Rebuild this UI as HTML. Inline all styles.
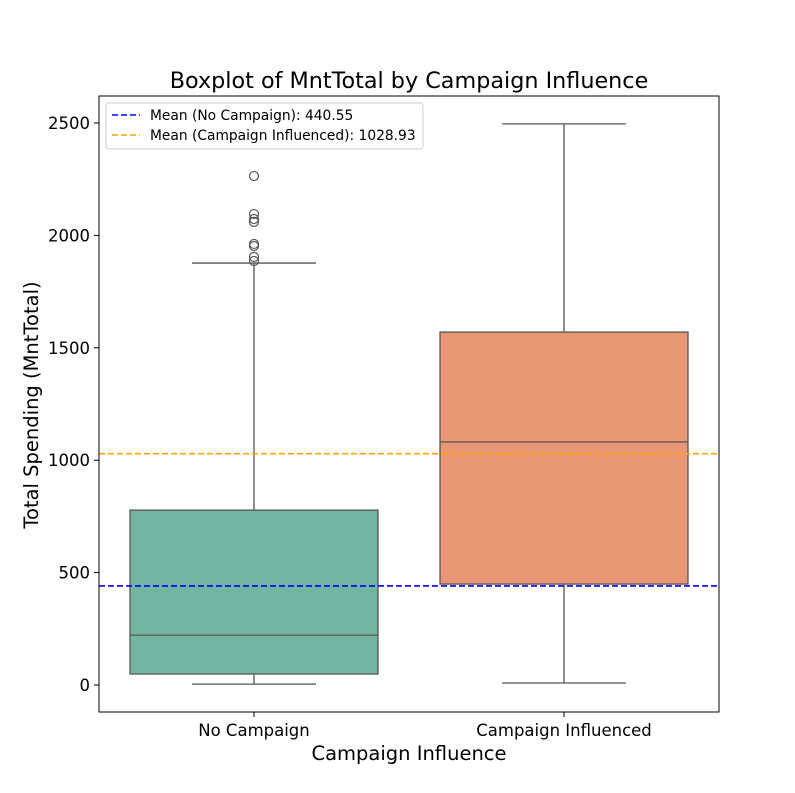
<!DOCTYPE html>
<html><head><meta charset="utf-8"><style>body{margin:0;background:#fff}svg{display:block;font-family:"DejaVu Sans","Liberation Sans",sans-serif}</style></head>
<body>
<svg id="c" width="795" height="793"></svg>
<script>
const categories=["No Campaign","Campaign Influenced"];
const q1s=[49,449];
const medians=[222,1081];
const q3s=[778,1570];
const whiskLow=[4,9];
const whiskHigh=[1877,2496];
const outliers=[[2264,2095,2073,2060,1962,1953,1904,1886],[]];
const means=[440.55,1028.93];
const yTicks=[0,500,1000,1500,2000,2500];
const fills=["#72b6a1","#e99675"];
const meanColors=["blue","orange"];
const L=99,R=719,T=96,B=712;
const y=v=>685-v*0.2248;
const xc=i=>254+i*310;
const bw=248;
const s=document.getElementById('c');const NS="http://www.w3.org/2000/svg";
function mk(t,a,txt){const e=document.createElementNS(NS,t);for(const k in a)e.setAttribute(k,a[k]);if(txt!==undefined)e.textContent=txt;s.appendChild(e);return e;}
let e;
categories.forEach((c,i)=>{
 const x=xc(i);
 e=mk('line',{x1:x,x2:x,y1:y(whiskLow[i]),y2:y(q1s[i]),stroke:'#555','stroke-width':1.3});
 
 e=mk('line',{x1:x,x2:x,y1:y(q3s[i]),y2:y(whiskHigh[i]),stroke:'#555','stroke-width':1.3});
 
 [whiskLow[i],whiskHigh[i]].forEach(v=>{e=mk('line',{x1:x-62,x2:x+62,y1:y(v),y2:y(v),stroke:'#555','stroke-width':1.3});
 });
 e=mk('rect',{x:x-bw/2,y:y(q3s[i]),width:bw,height:y(q1s[i])-y(q3s[i]),fill:fills[i],stroke:'#555','stroke-width':1.3});
 
 e=mk('line',{x1:x-bw/2,x2:x+bw/2,y1:y(medians[i]),y2:y(medians[i]),stroke:'#555','stroke-width':1.3});
 
 outliers[i].forEach(v=>{e=mk('circle',{cx:x,cy:y(v),r:4.5,fill:'none',stroke:'#555','stroke-width':1.2});
 });
 e=mk('line',{x1:x,x2:x,y1:B,y2:B+5,stroke:'#000'});
 
 e=mk('text',{x:x,y:736,'text-anchor':'middle','font-size':16.5},c);
 
});
means.forEach((m,i)=>{e=mk('line',{x1:L,x2:R,y1:y(m),y2:y(m),stroke:meanColors[i],'stroke-width':1.6,'stroke-dasharray':'6,3'});
 });
yTicks.forEach(v=>{e=mk('line',{x1:L-5,x2:L,y1:y(v),y2:y(v),stroke:'#000'});
 
 e=mk('text',{x:L-9,y:y(v)+6,'text-anchor':'end','font-size':16.5},v);
 });
e=mk('rect',{x:L,y:T,width:R-L,height:B-T,fill:'none',stroke:'#000','stroke-width':1});

e=mk('text',{x:409,y:88,'text-anchor':'middle','font-size':22.3},'Boxplot of MntTotal by Campaign Influence');

e=mk('text',{x:409,y:760,'text-anchor':'middle','font-size':19.5},'Campaign Influence');

e=mk('text',{x:38,y:405,'text-anchor':'middle','font-size':19.5,transform:'rotate(-90 38 405)'},'Total Spending (MntTotal)');

e=mk('rect',{x:106,y:103,width:317,height:46,rx:3,fill:'#fff','fill-opacity':0.8,stroke:'#ccc'});

const labels=["Mean (No Campaign): 440.55","Mean (Campaign Influenced): 1028.93"];
labels.forEach((t,i)=>{const ly=115+i*20;
 e=mk('line',{x1:112,x2:140,y1:ly,y2:ly,stroke:meanColors[i],'stroke-width':1.6,'stroke-dasharray':'6,3'});
 
 e=mk('text',{x:150,y:ly+5,'font-size':13.8},t);
 });
</script>
</body></html>
